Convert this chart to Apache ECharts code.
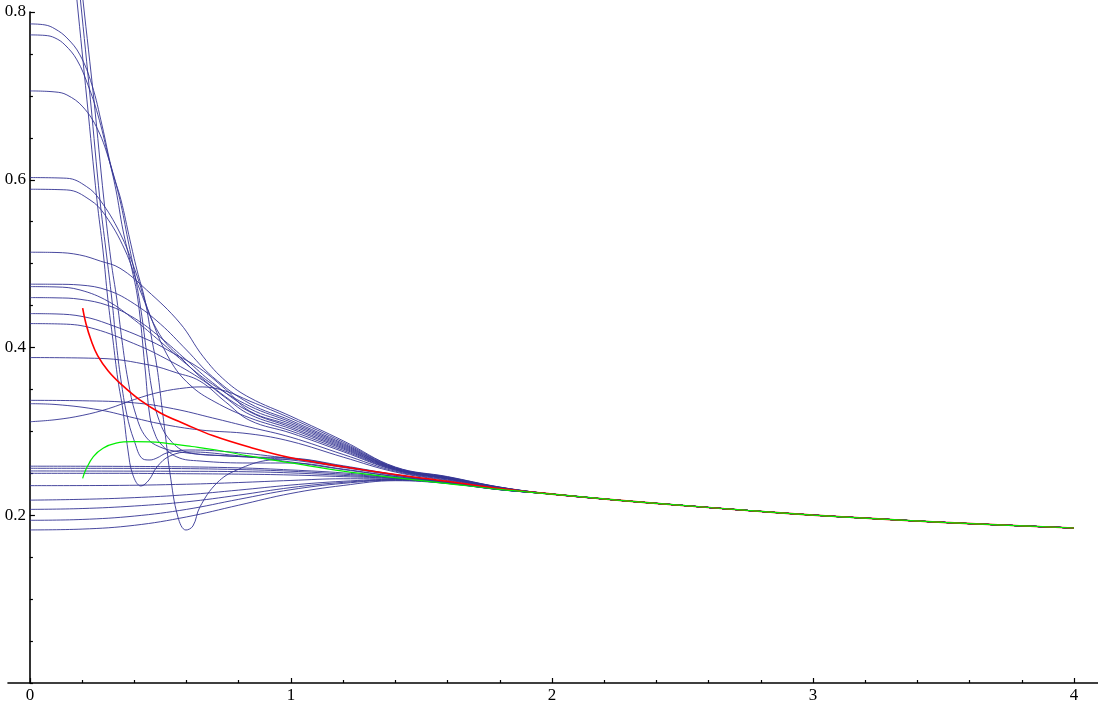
<!DOCTYPE html>
<html>
<head>
<meta charset="utf-8">
<title>curves</title>
<script src="https://cdn.jsdelivr.net/npm/echarts@6/dist/echarts.min.js"></script>
<style>
  html, body { margin: 0; padding: 0; background: #fff; }
  #chart { width: 1098px; height: 711px; }
</style>
</head>
<body>
<div id="chart"></div>
<script>
// axis ticks
const xMajor = [0, 1, 2, 3, 4]
const xMinor = [0.2, 0.4, 0.6, 0.8, 1.2, 1.4, 1.6, 1.8, 2.2, 2.4, 2.6, 2.8, 3.2, 3.4, 3.6, 3.8]
const yMajor = [0.2, 0.4, 0.6, 0.8]
const yMinor = [0, 0.05, 0.1, 0.15, 0.25, 0.3, 0.35, 0.45, 0.5, 0.55, 0.65, 0.7, 0.75]

// common tail every curve runs into
const tail = [[2.0, 0.2252], [2.25, 0.218], [2.5, 0.2117], [2.75, 0.2057], [3.0, 0.2002], [3.25, 0.1957], [3.5, 0.1915], [3.75, 0.188], [4.0, 0.1848]]

// curves coming down from above the frame
const steepCurves = [
  [[0.1743, 0.8323], [0.18, 0.8145], [0.2184, 0.6952], [0.2567, 0.576], [0.2797, 0.5163], [0.2989, 0.4567], [0.318, 0.409], [0.3372, 0.3613], [0.3563, 0.3255], [0.3755, 0.2778], [0.3946, 0.248], [0.4253, 0.2349], [0.456, 0.242], [0.4866, 0.2576], [0.5364, 0.2707], [0.613, 0.2755], [0.766, 0.272], [1.0, 0.2635], [1.2, 0.2545], [1.4, 0.2462], [1.6, 0.2392], [1.8, 0.2312]],
  [[0.1877, 0.8323], [0.1935, 0.8145], [0.2318, 0.6952], [0.2682, 0.576], [0.2912, 0.5163], [0.3142, 0.4567], [0.3295, 0.409], [0.3487, 0.3613], [0.3716, 0.3196], [0.3985, 0.2898], [0.433, 0.2671], [0.4598, 0.2659], [0.4866, 0.2683], [0.5249, 0.2743], [0.613, 0.2778], [0.766, 0.2755], [1.0, 0.2675], [1.2, 0.258], [1.4, 0.2482], [1.6, 0.2396], [1.8, 0.2313]],
  [[0.1973, 0.8323], [0.2031, 0.8145], [0.2452, 0.6952], [0.2835, 0.576], [0.3103, 0.5044], [0.3333, 0.4567], [0.3525, 0.409], [0.3755, 0.3613], [0.4061, 0.3196], [0.4444, 0.2933], [0.4981, 0.2814], [0.5747, 0.2755], [0.6897, 0.2719], [0.8429, 0.2695], [1.0, 0.2683], [1.2, 0.259], [1.4, 0.2485], [1.6, 0.2397], [1.8, 0.2313]]
]

// high plateaus that fall steeply and bend under the red curve
const kneeCurves = [
  [[0, 0.7858], [0.0575, 0.7846], [0.0958, 0.7799], [0.1418, 0.7691], [0.1916, 0.7489], [0.2375, 0.7131], [0.2759, 0.6654], [0.3142, 0.6117], [0.3487, 0.576], [0.3831, 0.5283], [0.41, 0.4925], [0.4406, 0.4567], [0.4674, 0.409], [0.4866, 0.3768], [0.5057, 0.3291], [0.5211, 0.2898], [0.5364, 0.2504], [0.567, 0.198], [0.5977, 0.1824], [0.6245, 0.1872], [0.6513, 0.2099], [0.7165, 0.2385], [0.7931, 0.254], [0.9195, 0.2659], [1.0, 0.2671], [1.2, 0.258], [1.4, 0.248], [1.6, 0.2395], [1.8, 0.2312]],
  [[0, 0.7727], [0.0575, 0.7721], [0.0958, 0.7691], [0.1341, 0.7608], [0.1801, 0.7429], [0.2222, 0.7131], [0.2605, 0.6773], [0.2989, 0.6296], [0.3295, 0.5879], [0.3563, 0.5402], [0.387, 0.4984], [0.4138, 0.4567], [0.4406, 0.3768], [0.4598, 0.3172], [0.4789, 0.2969], [0.4981, 0.2862], [0.5632, 0.2695], [0.6513, 0.2647], [0.8429, 0.2623], [1.0, 0.2623], [1.2, 0.255], [1.4, 0.2462], [1.6, 0.2391], [1.8, 0.2311]],
  [[0, 0.7059], [0.0958, 0.7047], [0.1418, 0.7011], [0.2031, 0.6868], [0.2605, 0.6594], [0.3065, 0.6201], [0.3448, 0.576], [0.3755, 0.5283], [0.4023, 0.4865], [0.4253, 0.4448], [0.4483, 0.3911], [0.4674, 0.3494], [0.4904, 0.3172], [0.5364, 0.2898], [0.613, 0.2743], [0.7663, 0.2707], [1.0, 0.2659], [1.2, 0.257], [1.4, 0.2475], [1.6, 0.2394], [1.8, 0.2312]]
]

// middle plateaus that sink into the band above the red curve
const upperCurves = [
  [[0, 0.6026], [0.1406, 0.6018], [0.2172, 0.5918], [0.2682, 0.576], [0.3448, 0.5366], [0.4023, 0.4925], [0.4598, 0.4388], [0.5364, 0.3852], [0.613, 0.3554], [0.7088, 0.3351], [0.8429, 0.316], [1.0, 0.3005], [1.2, 0.2774], [1.4, 0.254], [1.6, 0.2433], [1.8, 0.2326]],
  [[0, 0.5887], [0.1406, 0.5879], [0.2299, 0.576], [0.2874, 0.5581], [0.364, 0.5163], [0.4215, 0.4686], [0.4981, 0.415], [0.5862, 0.3852], [0.6897, 0.3554], [0.8429, 0.3232], [1.0, 0.305], [1.2, 0.2803], [1.4, 0.2549], [1.6, 0.244], [1.8, 0.2328]],
  [[0, 0.5136], [0.1, 0.5133], [0.19, 0.5104], [0.27, 0.503], [0.345, 0.4945], [0.447, 0.4686], [0.575, 0.429], [0.664, 0.389], [0.75, 0.36], [0.843, 0.34], [1.0, 0.318], [1.2, 0.2888], [1.4, 0.2575], [1.6, 0.2461], [1.8, 0.2336]],
  [[0, 0.4755], [0.1, 0.4754], [0.192, 0.4745], [0.3, 0.468], [0.4, 0.452], [0.5, 0.428], [0.6, 0.397], [0.7, 0.365], [0.843, 0.333], [1.0, 0.313], [1.2, 0.2855], [1.4, 0.2565], [1.6, 0.2453], [1.8, 0.2333]],
  [[0, 0.4726], [0.1, 0.4722], [0.192, 0.4686], [0.3, 0.455], [0.4, 0.433], [0.5, 0.407], [0.6, 0.38], [0.7, 0.356], [0.843, 0.33], [1.0, 0.311], [1.2, 0.2842], [1.4, 0.2561], [1.6, 0.245], [1.8, 0.2332]],
  [[0, 0.4595], [0.1, 0.4592], [0.192, 0.4575], [0.3, 0.45], [0.4, 0.435], [0.5, 0.412], [0.6, 0.385], [0.7, 0.358], [0.843, 0.327], [1.0, 0.309], [1.2, 0.2829], [1.4, 0.2557], [1.6, 0.2447], [1.8, 0.2331]],
  [[0, 0.4404], [0.1, 0.44], [0.204, 0.4368], [0.3, 0.428], [0.46, 0.408], [0.55, 0.393], [0.651, 0.375], [0.75, 0.35], [0.843, 0.324], [1.0, 0.307], [1.2, 0.2816], [1.4, 0.2553], [1.6, 0.2443], [1.8, 0.233]],
  [[0, 0.4285], [0.14, 0.4278], [0.25, 0.422], [0.396, 0.405], [0.5, 0.39], [0.651, 0.3633], [0.75, 0.34], [0.843, 0.32], [1.0, 0.303], [1.2, 0.279], [1.4, 0.2545], [1.6, 0.2437], [1.8, 0.2327]],
  [[0, 0.388], [0.268, 0.387], [0.46, 0.379], [0.56, 0.37], [0.651, 0.36], [0.75, 0.335], [0.843, 0.313], [1.0, 0.298], [1.2, 0.2758], [1.4, 0.2535], [1.6, 0.2429], [1.8, 0.2324]],
  [[0, 0.337], [0.2, 0.3365], [0.4, 0.334], [0.55, 0.327], [0.7, 0.316], [0.843, 0.305], [1.0, 0.293], [1.2, 0.2725], [1.4, 0.2525], [1.6, 0.2421], [1.8, 0.2321]],
  [[0, 0.333], [0.1, 0.332], [0.268, 0.3255], [0.4, 0.316], [0.5, 0.309], [0.651, 0.3017], [0.843, 0.297], [1.0, 0.288], [1.2, 0.2693], [1.4, 0.2515], [1.6, 0.2413], [1.8, 0.2318]],
  [[0, 0.3115], [0.1, 0.314], [0.2, 0.319], [0.3, 0.327], [0.4, 0.338], [0.5, 0.347], [0.6, 0.352], [0.66, 0.353], [0.75, 0.348], [0.843, 0.336], [1.0, 0.3155], [1.2, 0.2871], [1.4, 0.257], [1.6, 0.2457], [1.8, 0.2335]]
]

// low plateaus that climb slowly into the bundle
const lowerCurves = [
  [[0, 0.1825], [0.2, 0.1835], [0.4, 0.188], [0.6, 0.198], [0.8, 0.212], [1.0, 0.226], [1.2, 0.2355], [1.4, 0.2412], [1.6, 0.2378], [1.8, 0.2304]],
  [[0, 0.194], [0.2, 0.195], [0.4, 0.199], [0.6, 0.207], [0.8, 0.219], [1.0, 0.2305], [1.2, 0.238], [1.4, 0.2418], [1.6, 0.238], [1.8, 0.2305]],
  [[0, 0.207], [0.2, 0.208], [0.4, 0.211], [0.6, 0.216], [0.8, 0.224], [1.0, 0.233], [1.2, 0.2392], [1.4, 0.2422], [1.6, 0.2382], [1.8, 0.2306]],
  [[0, 0.218], [0.2, 0.219], [0.4, 0.221], [0.6, 0.2245], [0.8, 0.23], [1.0, 0.236], [1.2, 0.2405], [1.4, 0.2428], [1.6, 0.2384], [1.8, 0.2306]],
  [[0, 0.2353], [0.3, 0.2355], [0.6, 0.237], [0.8, 0.239], [1.0, 0.2415], [1.2, 0.2435], [1.4, 0.2435], [1.6, 0.2386], [1.8, 0.2307]],
  [[0, 0.25], [0.3, 0.25], [0.6, 0.2495], [0.8, 0.249], [1.0, 0.248], [1.2, 0.246], [1.4, 0.2438], [1.6, 0.2388], [1.8, 0.2308]],
  [[0, 0.2528], [0.5, 0.2525], [0.8, 0.252], [1.0, 0.2505], [1.2, 0.2475], [1.4, 0.2442], [1.6, 0.239], [1.8, 0.2308]],
  [[0, 0.256], [0.5, 0.2558], [0.8, 0.2545], [1.0, 0.2525], [1.2, 0.249], [1.4, 0.2446], [1.6, 0.2392], [1.8, 0.2309]],
  [[0, 0.2585], [0.5, 0.258], [0.8, 0.2565], [1.0, 0.254], [1.2, 0.2505], [1.4, 0.245], [1.6, 0.2394], [1.8, 0.2309]]
]

const redCurve = [[0.202, 0.447], [0.215, 0.428], [0.235, 0.408], [0.26, 0.39], [0.3, 0.372], [0.35, 0.356], [0.421, 0.3375], [0.5, 0.322], [0.6, 0.308], [0.7, 0.295], [0.843, 0.281], [1.0, 0.2685], [1.2, 0.2578], [1.4, 0.2485], [1.6, 0.2405], [1.8, 0.2318]]
const greenCurve = [[0.202, 0.244], [0.215, 0.255], [0.243, 0.27], [0.28, 0.28], [0.33, 0.286], [0.396, 0.2877], [0.46, 0.2875], [0.524, 0.2858], [0.62, 0.282], [0.715, 0.2778], [0.843, 0.2705], [1.0, 0.2625], [1.2, 0.2525], [1.4, 0.2448], [1.6, 0.2378], [1.8, 0.2308]]

const chart = echarts.init(document.getElementById('chart'))

const font = 'Liberation Serif, Times New Roman, serif'
const blue = 'rgba(52, 52, 148, 0.9)'

function curveSeries(points, color, width) {
  return {
    type: 'line',
    data: points.concat(tail),
    showSymbol: false,
    smooth: 0.4,
    clip: false,
    silent: true,
    lineStyle: { color: color, width: width }
  }
}

const series = []
steepCurves.concat(kneeCurves, upperCurves, lowerCurves).forEach(c => {
  series.push(curveSeries(c, blue, 1))
})
series.push(curveSeries(redCurve, '#ff0000', 1.6))
series.push(curveSeries(greenCurve, '#00ee00', 1.2))

const axisColor = '#000'

chart.setOption({
  animation: false,
  backgroundColor: '#fff',
  grid: {
    left: 8,
    right: 0,
    top: 12,
    bottom: 28,
    containLabel: false,
    outerBoundsMode: 'none'
  },
  xAxis: [
    {
      type: 'value',
      min: -0.084,
      max: 4.092,
      position: 'bottom',
      axisLine: { onZero: true, lineStyle: { color: axisColor, width: 1.6 } },
      axisTick: { inside: true, length: 5, customValues: xMajor, lineStyle: { color: axisColor, width: 1.2 } },
      axisLabel: { customValues: xMajor, color: axisColor, fontFamily: font, fontSize: 17, margin: 4 },
      splitLine: { show: false }
    },
    {
      type: 'value',
      min: -0.084,
      max: 4.092,
      position: 'bottom',
      axisLine: { show: false },
      axisTick: { inside: true, length: 3, customValues: xMinor, lineStyle: { color: axisColor, width: 1.2 } },
      axisLabel: { show: false },
      splitLine: { show: false }
    }
  ],
  yAxis: [
    {
      type: 'value',
      min: 0,
      max: 0.8,
      position: 'left',
      axisLine: { onZero: true, lineStyle: { color: axisColor, width: 1.6 } },
      axisTick: { inside: true, length: 5, customValues: yMajor, lineStyle: { color: axisColor, width: 1.2 } },
      // labels stay at the grid edge, so pull them right to sit beside the axis at x = 0
      axisLabel: { customValues: yMajor, color: axisColor, fontFamily: font, fontSize: 17, margin: -18 },
      splitLine: { show: false }
    },
    {
      type: 'value',
      min: 0,
      max: 0.8,
      position: 'left',
      axisLine: { show: false, onZero: true },
      axisTick: { inside: true, length: 3, customValues: yMinor, lineStyle: { color: axisColor, width: 1.2 } },
      axisLabel: { show: false },
      splitLine: { show: false }
    }
  ],
  series: series
})
</script>
</body>
</html>
